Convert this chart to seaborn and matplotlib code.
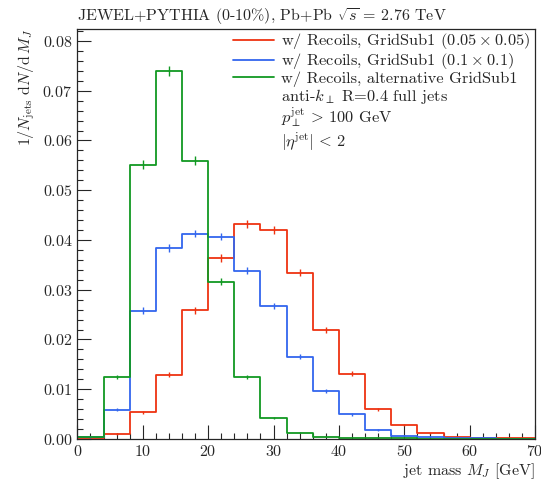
import numpy as np
import seaborn as sns
import matplotlib.pyplot as plt
from matplotlib.lines import Line2D
from matplotlib.ticker import MultipleLocator

# bin edges (GeV) and normalised jet-mass distributions
edges = [0, 4, 8, 12, 16, 20, 24, 28, 32, 36, 40, 44, 48, 52, 56, 60, 64, 68, 72]

red_vals = [0.0002, 0.0011, 0.0054, 0.0129, 0.0259, 0.0363, 0.0433, 0.0421, 0.0334,
            0.0220, 0.0131, 0.0060, 0.0028, 0.0012, 0.0005, 0.0002, 0.0001, 0.0001]
blue_vals = [0.0003, 0.0059, 0.0258, 0.0383, 0.0413, 0.0407, 0.0338, 0.0267, 0.0165,
             0.0096, 0.0050, 0.0019, 0.0007, 0.0003, 0.0002, 0.0001, 0.0, 0.0]
green_vals = [0.0004, 0.0125, 0.0551, 0.0739, 0.0559, 0.0316, 0.0125, 0.0042, 0.0013,
              0.0004, 0.0002, 0.0001, 0.0001, 0.0, 0.0, 0.0, 0.0, 0.0]

red_err = [0.0001, 0.0002, 0.0003, 0.0005, 0.0007, 0.0008, 0.0008, 0.0008, 0.0007,
           0.0006, 0.0005, 0.0003, 0.0002, 0.0001, 0.0001, 0.0001, 0.0, 0.0]
blue_err = [0.0001, 0.0003, 0.0007, 0.0008, 0.0008, 0.0008, 0.0007, 0.0006, 0.0005,
            0.0004, 0.0003, 0.0002, 0.0001, 0.0001, 0.0, 0.0, 0.0, 0.0]
green_err = [0.0001, 0.0004, 0.0009, 0.0010, 0.0009, 0.0007, 0.0004, 0.0002, 0.0001,
             0.0001, 0.0, 0.0, 0.0, 0.0, 0.0, 0.0, 0.0, 0.0]

labels = [r"w/ Recoils, GridSub1 ($0.05\times0.05$)",
          r"w/ Recoils, GridSub1 ($0.1\times0.1$)",
          r"w/ Recoils, alternative GridSub1"]
extra_text = [r"anti-$k_\perp$ R=0.4 full jets",
              r"$p_\perp^{\rm jet} \,>\, 100$ GeV",
              r"$|\eta^{\rm jet}| \,<\, 2$"]
colors = ["#ee3311", "#3366ee", "#119922"]

sns.set_style("ticks")
plt.rcParams["font.family"] = ["cmr10", "DejaVu Serif"]
plt.rcParams["mathtext.fontset"] = "cm"
plt.rcParams["axes.formatter.use_mathtext"] = True
plt.rcParams["font.size"] = 11.5

fig = plt.figure(figsize=(5.41, 4.84), dpi=100)
ax = fig.add_axes([0.143, 0.093, 0.846, 0.847])

centers = [(edges[i] + edges[i + 1]) / 2 for i in range(len(edges) - 1)]
for vals, errs, col in zip([red_vals, blue_vals, green_vals],
                           [red_err, blue_err, green_err], colors):
    sns.histplot(x=centers, weights=vals, bins=edges, element="step", fill=False,
                 color=col, linewidth=1.3, ax=ax)
    ax.errorbar(centers, vals, yerr=errs, fmt="none", ecolor=col, elinewidth=1.0)

ax.set_xlim(0, 70)
ax.set_ylim(0, 0.0824)
ax.xaxis.set_major_locator(MultipleLocator(10))
ax.xaxis.set_minor_locator(MultipleLocator(2))
ax.yaxis.set_major_locator(MultipleLocator(0.01))
ax.yaxis.set_minor_locator(MultipleLocator(0.002))
ax.tick_params(which="both", direction="in", top=False, right=False, labelsize=11.5)
ax.tick_params(which="major", length=10, width=0.8)
ax.tick_params(which="minor", length=4.5, width=0.8)
for s in ax.spines.values():
    s.set_linewidth(0.9)

ax.set_ylabel(r"$1/N_{\rm jets}\ {\rm d}N/{\rm d}\,M_J$", loc="top", fontsize=11.5)
ax.set_xlabel(r"jet mass $M_J$ [GeV]", loc="right", fontsize=11.5, labelpad=2)
ax.set_title(r"JEWEL+PYTHIA (0-10%), Pb+Pb $\sqrt{s}$ = 2.76 TeV", loc="left",
             fontsize=11.5, pad=6)

handles = [Line2D([], [], color=c, lw=1.3) for c in colors]
handles += [Line2D([], [], color="none") for _ in extra_text]
ax.legend(handles, labels + extra_text, loc="upper left", bbox_to_anchor=(0.335, 1.0),
          frameon=False, fontsize=11.8, handlelength=2.5, handletextpad=0.42,
          labelspacing=0.0, borderaxespad=0.0, borderpad=0.15)

fig.savefig("out.png", dpi=100)
